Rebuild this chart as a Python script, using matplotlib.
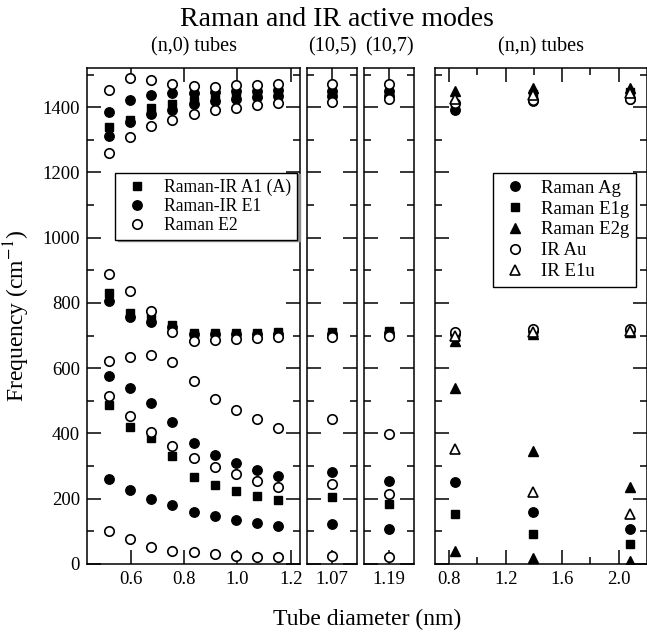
# Raman and IR active modes of carbon nanotubes vs tube diameter
import numpy as np
import matplotlib
matplotlib.use('Agg')
import matplotlib.pyplot as plt
from matplotlib.ticker import MultipleLocator, FixedLocator

plt.rcParams['font.family'] = ['Liberation Serif', 'DejaVu Serif']
plt.rcParams['mathtext.fontset'] = 'stix'

# --- Data ---
# (n,0) tubes
d_n0 = [0.517, 0.596, 0.676, 0.756, 0.835, 0.915, 0.994, 1.074, 1.153]
n0_A1 = [
    [1340, 1360, 1396, 1409, 1420, 1425, 1430, 1438, 1440],
    [831, 770, 754, 732, 708, 708, 708, 708, 712],
    [487, 420, 385, 332, 267, 242, 224, 209, 196],
]
n0_E1 = [
    [1385, 1421, 1436, 1442, 1442, 1445, 1448, 1450, 1452],
    [1311, 1355, 1380, 1390, 1410, 1420, 1425, 1430, 1435],
    [806, 756, 742, 725, 705, 705, 705, 705, 706],
    [577, 538, 494, 435, 370, 334, 308, 288, 270],
    [260, 227, 200, 180, 160, 148, 135, 127, 116],
]
n0_E2 = [
    [1452, 1488, 1482, 1470, 1464, 1462, 1467, 1469, 1472],
    [1258, 1309, 1342, 1362, 1378, 1390, 1398, 1406, 1413],
    [890, 837, 775, 711, 683, 686, 689, 693, 696],
    [622, 634, 640, 620, 560, 507, 472, 443, 416],
    [516, 454, 403, 362, 325, 298, 276, 254, 237],
    [102, 76, 53, 41, 37, 32, 26, 21, 22],
]

# chiral tubes
d_105 = 1.07
c105_A1 = [1440, 712, 204]
c105_E1 = [1450, 1435, 705, 283, 122]
c105_E2 = [1472, 1416, 696, 443, 244, 25]
d_107 = 1.19
c107_A1 = [1440, 715, 184]
c107_E1 = [1450, 1435, 708, 255, 106]
c107_E2 = [1472, 1424, 698, 398, 216, 20]

# (n,n) tubes
d_nn = [0.84, 1.39, 2.08]
nn_Ag = [[1390, 1420, 1425], [706, 714, 716], [252, 160, 106]]
nn_E1g = [[1405, 1440, 1445], [700, 708, 712], [153, 91, 60]]
nn_E2g = [[1450, 1460, 1460], [684, 705, 710], [538, 347, 237], [41, 17, 9]]
nn_Au = [[1413, 1421, 1426], [712, 719, 719]]
nn_E1u = [[1426, 1436, 1442], [700, 712, 714], [352, 221, 152]]

# --- Figure layout (pixel boxes) ---
W, H = 647, 637
fig = plt.figure(figsize=(W / 100, H / 100), dpi=100)


def add_ax(x0, x1, y0, y1):
    return fig.add_axes([x0 / W, 1 - y1 / H, (x1 - x0) / W, (y1 - y0) / H])


ax1 = add_ax(87, 300, 68, 564)
ax2 = add_ax(307, 357, 68, 564)
ax3 = add_ax(364, 414, 68, 564)
ax4 = add_ax(435, 647, 68, 564)

sq = dict(ls='none', marker='s', ms=5.5, color='black')
fc = dict(ls='none', marker='o', ms=6.8, color='black')
oc = dict(ls='none', marker='o', ms=6.8, mfc='white', mec='black', mew=1.2)
ft = dict(ls='none', marker='^', ms=6.8, color='black')
ot = dict(ls='none', marker='^', ms=6.8, mfc='white', mec='black', mew=1.2)

for ax in (ax1, ax2, ax3, ax4):
    ax.set_ylim(0, 1520)
    ax.yaxis.set_major_locator(MultipleLocator(200))
    ax.yaxis.set_minor_locator(MultipleLocator(100))
    ax.tick_params(which='both', direction='in', top=True, right=True,
                   labelsize=13.5, width=1.1)
    ax.tick_params(which='major', length=10, pad=5)
    ax.tick_params(which='minor', length=5)
    for s in ax.spines.values():
        s.set_linewidth(1.1)
    if ax is not ax1:
        ax.tick_params(labelleft=False)

# (n,0) panel
for i, row in enumerate(n0_A1):
    ax1.plot(d_n0, row, label='Raman-IR A1 (A)' if i == 0 else None, **sq)
for i, row in enumerate(n0_E1):
    ax1.plot(d_n0, row, label='Raman-IR E1' if i == 0 else None, **fc)
for i, row in enumerate(n0_E2):
    ax1.plot(d_n0, row, label='Raman E2' if i == 0 else None, **oc)
ax1.set_xlim(0.435, 1.235)
ax1.xaxis.set_major_locator(FixedLocator([0.6, 0.8, 1.0, 1.2]))
ax1.set_xticklabels(['0.6', '0.8', '1.0', '1.2'])
ax1.set_title('(n,0) tubes', fontsize=14.5, pad=12)
ax1.set_ylabel('Frequency (cm$^{-1}$)', fontsize=17)
ax1.yaxis.set_label_coords(-0.258, 0.5)

leg1 = ax1.legend(loc='upper left', bbox_to_anchor=(115 / W, 1 - 173 / H),
                  bbox_transform=fig.transFigure, fontsize=12.7, frameon=True,
                  fancybox=False, edgecolor='black', framealpha=1,
                  shadow={'color': '0.55', 'alpha': 1, 'ox': 2, 'oy': -0.5},
                  borderpad=0.35, handlelength=1.8, handletextpad=0.6,
                  labelspacing=0.1, borderaxespad=0)
leg1.get_frame().set_linewidth(1.0)

# chiral panels
for ax, d, a1, e1, e2, lab in ((ax2, d_105, c105_A1, c105_E1, c105_E2, '(10,5)'),
                               (ax3, d_107, c107_A1, c107_E1, c107_E2, '(10,7)')):
    ax.plot([d] * len(a1), a1, **sq)
    ax.plot([d] * len(e1), e1, **fc)
    ax.plot([d] * len(e2), e2, **oc)
    ax.set_xlim(d - 0.1, d + 0.1)
    ax.xaxis.set_major_locator(FixedLocator([d]))
    ax.set_xticklabels(['%.2f' % d])
    ax.set_title(lab, fontsize=14.5, pad=12)

# (n,n) panel
for i, row in enumerate(nn_Ag):
    ax4.plot(d_nn, row, label='Raman Ag' if i == 0 else None, **fc)
for i, row in enumerate(nn_E1g):
    ax4.plot(d_nn, row, label='Raman E1g' if i == 0 else None, **sq)
for i, row in enumerate(nn_E2g):
    ax4.plot(d_nn, row, label='Raman E2g' if i == 0 else None, **ft)
for i, row in enumerate(nn_Au):
    ax4.plot(d_nn, row, label='IR Au' if i == 0 else None, **oc)
for i, row in enumerate(nn_E1u):
    ax4.plot(d_nn, row, label='IR E1u' if i == 0 else None, **ot)
ax4.set_xlim(0.7, 2.2)
ax4.xaxis.set_major_locator(FixedLocator([0.8, 1.2, 1.6, 2.0]))
ax4.set_xticklabels(['0.8', '1.2', '1.6', '2.0'])
ax4.xaxis.set_minor_locator(FixedLocator([1.0, 1.4, 1.8]))
ax4.set_title('(n,n) tubes', fontsize=14.5, pad=12)

leg4 = ax4.legend(loc='upper left', bbox_to_anchor=(493 / W, 1 - 173 / H),
                  bbox_transform=fig.transFigure, fontsize=13.5, frameon=True,
                  fancybox=False, edgecolor='black', framealpha=1,
                  borderpad=0.35, handlelength=1.6, handletextpad=0.6,
                  labelspacing=0.2, borderaxespad=0)
leg4.get_frame().set_linewidth(1.0)

fig.text(337 / W, 1 - 19 / H, 'Raman and IR active modes', fontsize=20,
         ha='center', va='center')
fig.text(367 / W, 1 - 619 / H, 'Tube diameter (nm)', fontsize=17,
         ha='center', va='center')

fig.savefig('out.png', dpi=100)
